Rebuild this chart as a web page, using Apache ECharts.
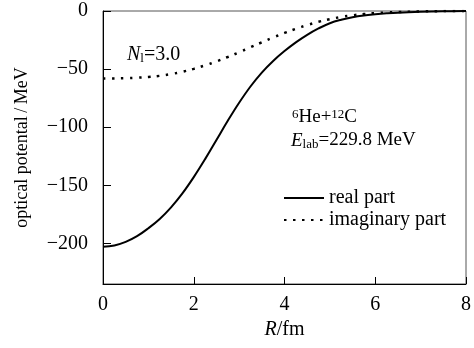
<!DOCTYPE html>
<html><head><meta charset="utf-8">
<script src="https://cdn.jsdelivr.net/npm/echarts@6/dist/echarts.min.js"></script>
<style>html,body{margin:0;padding:0;background:#fff}#c{width:474px;height:348px}</style>
</head><body><div id="c"></div>
<script>
const R = [0,0.25,0.5,0.75,1,1.25,1.5,1.75,2,2.25,2.5,2.75,3,3.25,3.5,3.75,4,4.25,4.5,4.75,5,5.25,5.5,5.75,6,6.25,6.5,7,7.5,8];
const realPart = [-203,-201.8,-198.7,-193.8,-187,-179,-169,-157,-143,-127.5,-111,-94.5,-79,-65,-53,-43,-34.5,-27,-20.5,-15,-10.5,-7.5,-5.3,-3.8,-2.8,-2,-1.4,-0.7,-0.25,0];
const imagPart = [-58,-58,-57.8,-57.4,-56.8,-55.8,-54.3,-52.3,-49.8,-46.8,-43.4,-39.6,-35.5,-31.2,-27,-22.8,-18.9,-15.3,-12.1,-9.3,-7,-5.1,-3.7,-2.6,-1.8,-1.25,-0.85,-0.35,-0.1,0];
const yTicks = [0,-50,-100,-150,-200];
const seriesNames = ['real part','imaginary part'];

const font = '"Liberation Serif","Times New Roman",serif';
const chart = echarts.init(document.getElementById('c'));
chart.setOption({
  animation:false,
  textStyle:{fontFamily:font,color:'#000'},
  grid:{left:103,right:2,top:11,bottom:64,show:true,borderColor:'#555',borderWidth:1,backgroundColor:'transparent'},
  legend:{
    orient:'vertical',left:283,top:188,itemWidth:40,itemHeight:14,itemGap:2,padding:0,
    itemStyle:{opacity:0},
    textStyle:{fontFamily:font,fontSize:20,lineHeight:20,color:'#000'},
    data:seriesNames
  },
  xAxis:{
    type:'value',min:0,max:8,interval:2,
    name:'{i|R}/fm',nameLocation:'middle',nameGap:36,
    nameTextStyle:{fontFamily:font,fontSize:20,color:'#000',rich:{i:{fontStyle:'italic',fontFamily:font,fontSize:20}}},
    axisLine:{onZero:false,lineStyle:{color:'#000',width:1}},
    axisTick:{inside:true,length:7,lineStyle:{color:'#000'}},
    axisLabel:{fontFamily:font,fontSize:20,color:'#000',margin:11},
    splitLine:{show:false}
  },
  yAxis:{
    type:'value',min:-235,max:0,
    name:'optical potental\u2009/\u2009MeV',nameLocation:'middle',nameGap:72,nameRotate:90,
    nameTextStyle:{fontFamily:font,fontSize:18,color:'#000'},
    axisLine:{onZero:false,lineStyle:{color:'#000',width:1}},
    axisTick:{inside:true,length:8,lineStyle:{color:'#000'},customValues:yTicks},
    axisLabel:{fontFamily:font,fontSize:20,color:'#000',margin:15,customValues:yTicks,
      formatter:v=>String(v).replace('-','\u2212')},
    splitLine:{show:false}
  },
  series:[
    {name:seriesNames[0],type:'line',data:R.map((r,i)=>[r,realPart[i]]),smooth:0.4,showSymbol:false,symbol:'none',
     lineStyle:{color:'#000',width:2},itemStyle:{color:'#000'}},
    {name:seriesNames[1],type:'line',data:R.map((r,i)=>[r,imagPart[i]]),smooth:0.4,showSymbol:false,symbol:'none',
     lineStyle:{color:'#000',width:2.5,type:[2.5,6.5]},itemStyle:{color:'#000'}}
  ],
  graphic:[
    {type:'text',left:127,top:45,style:{text:'{i|N}{s|l}=3.0',fontFamily:font,fontSize:20,fill:'#000',
      rich:{i:{fontStyle:'italic',fontFamily:font,fontSize:20},s:{fontFamily:font,fontSize:13,verticalAlign:'bottom',padding:[8,0,0,0]}}}},
    {type:'text',left:292,top:108,style:{text:'{p|6}He+{p|12}C',fontFamily:font,fontSize:19,fill:'#000',
      rich:{p:{fontFamily:font,fontSize:13,verticalAlign:'top',padding:[0,0,6,0]}}}},
    {type:'text',left:291,top:131,style:{text:'{i|E}{s|lab}=229.8 MeV',fontFamily:font,fontSize:19,fill:'#000',
      rich:{i:{fontStyle:'italic',fontFamily:font,fontSize:19},s:{fontFamily:font,fontSize:13,verticalAlign:'bottom',padding:[8,0,0,0]}}}}
  ]
});
</script></body></html>
